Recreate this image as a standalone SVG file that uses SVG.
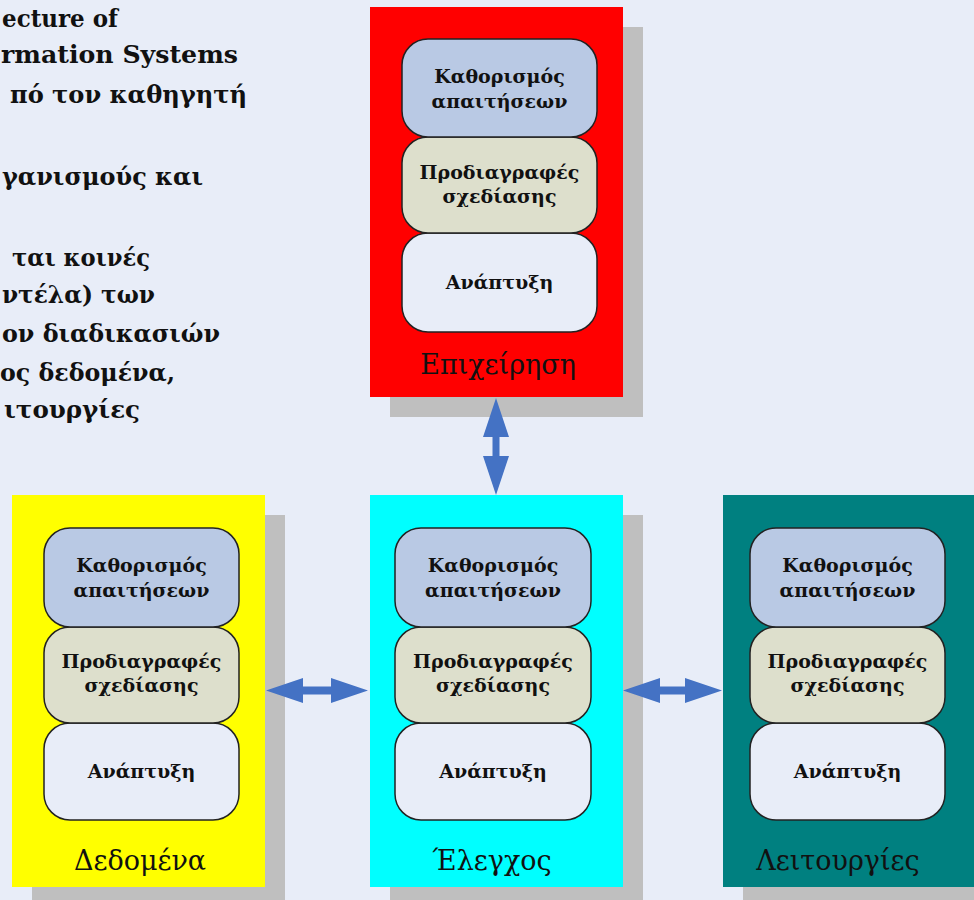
<svg xmlns="http://www.w3.org/2000/svg" width="974" height="900" viewBox="0 0 974 900">
  <style>
    .bg { fill: #E8EDF8; }
    .shadow { fill: #BFBFBF; }
    .card { stroke: #222; stroke-width: 1.5; }
    .req { fill: #B9C9E4; }
    .spec { fill: #DDDFCC; }
    .dev { fill: #E8EDF8; }
    .ct { font-family: "DejaVu Serif", "Liberation Serif", serif; font-weight: bold; font-size: 19px; fill: #111; text-anchor: middle; }
    .lbl { font-family: "DejaVu Serif", "Liberation Serif", serif; font-size: 27px; fill: #111; text-anchor: middle; }
    .intro { font-family: "DejaVu Serif", "Liberation Serif", serif; font-weight: bold; font-size: 24px; fill: #111; }
    .arrow { fill: #4472C4; }
  </style>

  <rect class="bg" x="0" y="0" width="974" height="900"/>

  <!-- introductory text, running off the left edge -->
  <g id="intro-text">
    <text class="intro" x="2" y="27" textLength="116" lengthAdjust="spacingAndGlyphs">ecture of</text>
    <text class="intro" x="1" y="63" textLength="237" lengthAdjust="spacingAndGlyphs">rmation Systems</text>
    <text class="intro" x="10" y="103" textLength="237" lengthAdjust="spacingAndGlyphs">πό τον καθηγητή</text>
    <text class="intro" x="2" y="185" textLength="201" lengthAdjust="spacingAndGlyphs">γανισμούς και</text>
    <text class="intro" x="12" y="266" textLength="138" lengthAdjust="spacingAndGlyphs">ται κοινές</text>
    <text class="intro" x="2" y="303" textLength="153" lengthAdjust="spacingAndGlyphs">ντέλα) των</text>
    <text class="intro" x="2" y="342" textLength="218" lengthAdjust="spacingAndGlyphs">ον διαδικασιών</text>
    <text class="intro" x="0" y="381" textLength="175" lengthAdjust="spacingAndGlyphs">ος δεδομένα,</text>
    <text class="intro" x="4" y="418" textLength="136" lengthAdjust="spacingAndGlyphs">ιτουργίες</text>
  </g>

  <!-- Business -->
  <g id="node-business">
    <rect class="shadow" x="390" y="27" width="253" height="390"/>
    <rect x="370" y="7" width="253" height="390" fill="#FF0000"/>
    <rect class="card dev" x="402" y="233" width="195" height="99" rx="26"/>
    <rect class="card spec" x="402" y="137" width="195" height="96" rx="26"/>
    <rect class="card req" x="402" y="39" width="195" height="98" rx="26"/>
    <text class="ct" x="499.5" y="83">Καθορισμός</text>
    <text class="ct" x="499.5" y="108">απαιτήσεων</text>
    <text class="ct" x="499.5" y="179">Προδιαγραφές</text>
    <text class="ct" x="499.5" y="203">σχεδίασης</text>
    <text class="ct" x="499.5" y="289">Ανάπτυξη</text>
    <text class="lbl" x="498" y="374">Επιχείρηση</text>
  </g>

  <!-- Data -->
  <g id="node-data">
    <rect class="shadow" x="32" y="515" width="253" height="392"/>
    <rect x="12" y="495" width="253" height="392" fill="#FFFF00"/>
    <rect class="card dev" x="44" y="723" width="195" height="97" rx="26"/>
    <rect class="card spec" x="44" y="627" width="195" height="96" rx="26"/>
    <rect class="card req" x="44" y="528" width="195" height="99" rx="26"/>
    <text class="ct" x="141.5" y="572">Καθορισμός</text>
    <text class="ct" x="141.5" y="597">απαιτήσεων</text>
    <text class="ct" x="141.5" y="668">Προδιαγραφές</text>
    <text class="ct" x="141.5" y="692">σχεδίασης</text>
    <text class="ct" x="141.5" y="778">Ανάπτυξη</text>
    <text class="lbl" x="140" y="870">Δεδομένα</text>
  </g>

  <!-- Control -->
  <g id="node-control">
    <rect class="shadow" x="390" y="515" width="253" height="392"/>
    <rect x="370" y="495" width="253" height="392" fill="#00FFFF"/>
    <rect class="card dev" x="395" y="723" width="196" height="97" rx="26"/>
    <rect class="card spec" x="395" y="627" width="196" height="96" rx="26"/>
    <rect class="card req" x="395" y="528" width="196" height="99" rx="26"/>
    <text class="ct" x="493" y="572">Καθορισμός</text>
    <text class="ct" x="493" y="597">απαιτήσεων</text>
    <text class="ct" x="493" y="668">Προδιαγραφές</text>
    <text class="ct" x="493" y="692">σχεδίασης</text>
    <text class="ct" x="493" y="778">Ανάπτυξη</text>
    <text class="lbl" x="492" y="870">Έλεγχος</text>
  </g>

  <!-- Functions -->
  <g id="node-functions">
    <rect class="shadow" x="743" y="515" width="253" height="392"/>
    <rect x="723" y="495" width="253" height="392" fill="#008080"/>
    <rect class="card dev" x="750" y="723" width="195" height="97" rx="26"/>
    <rect class="card spec" x="750" y="627" width="195" height="96" rx="26"/>
    <rect class="card req" x="750" y="528" width="195" height="99" rx="26"/>
    <text class="ct" x="847.5" y="572">Καθορισμός</text>
    <text class="ct" x="847.5" y="597">απαιτήσεων</text>
    <text class="ct" x="847.5" y="668">Προδιαγραφές</text>
    <text class="ct" x="847.5" y="692">σχεδίασης</text>
    <text class="ct" x="847.5" y="778">Ανάπτυξη</text>
    <text class="lbl" x="838" y="870">Λειτουργίες</text>
  </g>

  <!-- two-headed block arrows between the areas -->
  <g id="connectors">
    <polygon class="arrow" points="496,398 509,437 499.5,437 499.5,456 509,456 496,495 483,456 492.5,456 492.5,437 483,437"/>
    <polygon class="arrow" points="266,690.5 303,678 303,686.5 331,686.5 331,678 368,690.5 331,703 331,694.5 303,694.5 303,703"/>
    <polygon class="arrow" points="623,690.5 660,678 660,686.5 685,686.5 685,678 722,690.5 685,703 685,694.5 660,694.5 660,703"/>
  </g>
</svg>
